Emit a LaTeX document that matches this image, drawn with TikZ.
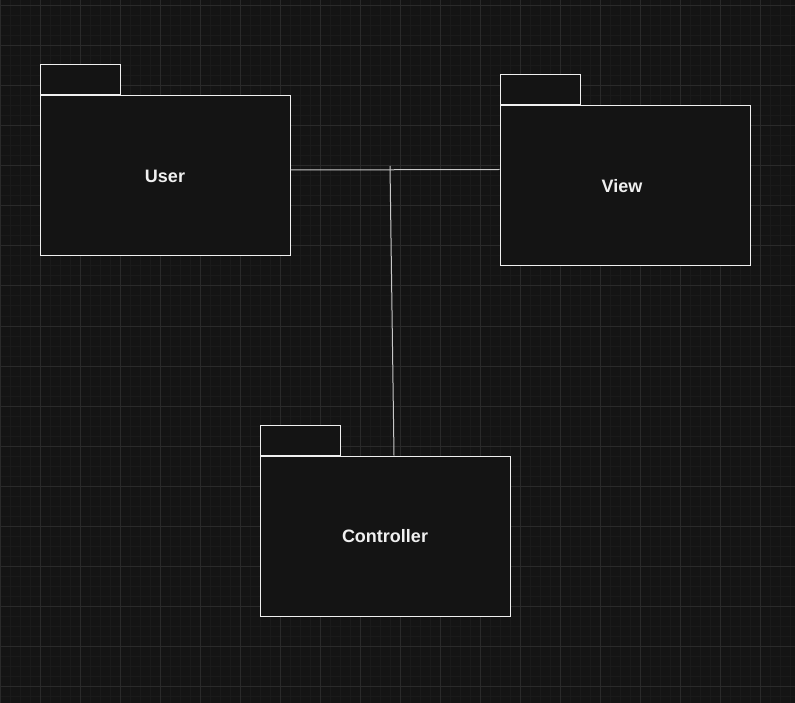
\documentclass[tikz,border=0pt]{standalone}
\usepackage{fontspec}
\setmainfont{Liberation Sans}
\usetikzlibrary{calc}
\definecolor{canvas}{HTML}{141414}
\definecolor{gridminor}{HTML}{1A1A1A}
\definecolor{gridmajor}{HTML}{2A2A2A}
\definecolor{edge}{HTML}{F0F0F0}
\definecolor{wire}{HTML}{C8C8C8}
\begin{document}
\begin{tikzpicture}[
  x=1pt, y=-1pt,
  pkg/.style={draw=edge, fill=canvas, line width=1pt, minimum width=250pt, minimum height=160pt,
    inner sep=0pt, text=edge, font=\fontsize{18}{20}\selectfont\bfseries},
  pkgtab/.style={draw=edge, fill=canvas, line width=1pt, minimum width=80pt, minimum height=30pt,
    inner sep=0pt, anchor=south west},
  wireline/.style={draw=wire, line width=1pt}
]
\useasboundingbox (0,0) rectangle (795,703);
\fill[canvas] (0,0) rectangle (795,703);
% grid
\foreach \gx in {10,20,...,790} \draw[gridminor, line width=1pt] (\gx,0) -- (\gx,703);
\foreach \gy in {6,16,...,696} \draw[gridminor, line width=1pt] (0,\gy) -- (795,\gy);
\foreach \gx in {0,40,...,760} \draw[gridmajor, line width=1pt] (\gx,0) -- (\gx,703);
\foreach \gy in {6,46,...,686} \draw[gridmajor, line width=1pt] (0,\gy) -- (795,\gy);

\node[pkg] (user) at (165,176) {User};
\node[pkgtab] (usertab) at (user.north west) {};
\node[pkg] (view) at (625,186) {\hspace*{-6pt}View};
\node[pkgtab] (viewtab) at (view.north west) {};
\node[pkg] (ctrl) at (385,536) {Controller};
\node[pkgtab] (ctrltab) at (ctrl.north west) {};

\coordinate (junction) at (390,166);
\draw[wireline] ([yshift=6pt]user.east) -- ([yshift=16.5pt]view.west);
\draw[wireline] (junction) -- ([xshift=9pt]ctrl.north);
\end{tikzpicture}
\end{document}
